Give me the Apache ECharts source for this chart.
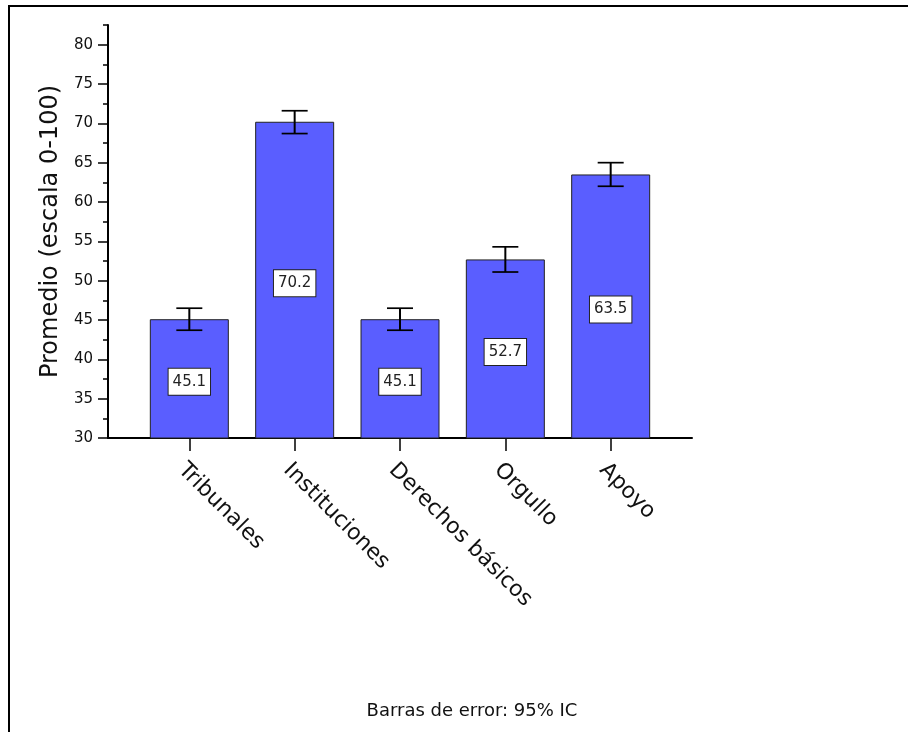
<!DOCTYPE html>
<html>
<head>
<meta charset="utf-8">
<script src="https://cdn.jsdelivr.net/npm/echarts@6/dist/echarts.min.js"></script>
<style>
  html, body { margin: 0; padding: 0; background: #ffffff; }
  #frame { position: absolute; left: 8px; top: 5px; right: 0; bottom: 0; border-top: 2px solid #000; border-left: 2px solid #000; }
  #chart { position: absolute; left: 0; top: 0; width: 908px; height: 732px; }
</style>
</head>
<body>
<div id="frame"></div>
<div id="chart"></div>
<script>
const categories = ['Tribunales', 'Instituciones', 'Derechos básicos', 'Orgullo', 'Apoyo'];
const means = [45.1, 70.2, 45.1, 52.7, 63.5];
const ciLower = [43.7, 68.7, 43.7, 51.1, 62.0];
const ciUpper = [46.5, 71.6, 46.5, 54.3, 65.0];
const yTickValues = [30, 35, 40, 45, 50, 55, 60, 65, 70, 75, 80];
const xTickValues = [0, 1, 2, 3, 4];
const yAxisTitle = 'Promedio (escala 0-100)';
const footnote = 'Barras de error: 95% IC';

const FONT = 'DejaVu Sans';
const chart = echarts.init(document.getElementById('chart'), null, { renderer: 'canvas' });

const barData = means.map((v, i) => [i, v]);
const errData = means.map((v, i) => [i, ciLower[i], ciUpper[i]]);

chart.setOption({
  animation: false,
  textStyle: { fontFamily: FONT },
  title: {
    text: footnote,
    left: 467,
    top: 697,
    textAlign: 'center',
    textStyle: { fontFamily: FONT, fontSize: 18, fontWeight: 'normal', color: '#111' }
  },
  grid: { left: 108, top: 25, right: 216, bottom: 294, containLabel: false },
  xAxis: {
    type: 'value',
    min: -0.772,
    max: 4.772,
    splitLine: { show: false },
    axisLine: { show: true, onZero: false, lineStyle: { color: '#000', width: 2 } },
    axisTick: { show: true, customValues: xTickValues, length: 13, lineStyle: { color: '#000', width: 1.5 } },
    axisLabel: {
      customValues: xTickValues,
      formatter: (v) => categories[Math.round(v)],
      rotate: -45,
      align: 'left',
      verticalAlign: 'top',
      margin: 21,
      fontFamily: FONT,
      fontSize: 22,
      color: '#111'
    }
  },
  yAxis: [
    {
      type: 'value',
      min: 30,
      max: 82.5,
      interval: 5,
      position: 'left',
      splitLine: { show: false },
      axisLine: { show: true, onZero: false, lineStyle: { color: '#000', width: 2 } },
      axisTick: { show: true, customValues: yTickValues, length: 10, lineStyle: { color: '#000', width: 1.5 } },
      axisLabel: { customValues: yTickValues, margin: 15, fontFamily: FONT, fontSize: 15, color: '#111' },
      name: yAxisTitle,
      nameLocation: 'middle',
      nameGap: 44,
      nameTextStyle: { fontFamily: FONT, fontSize: 24, color: '#111' }
    },
    {
      type: 'value',
      min: 30,
      max: 82.5,
      interval: 2.5,
      position: 'left',
      splitLine: { show: false },
      axisLine: { show: false, onZero: false },
      axisTick: { show: true, length: 5, lineStyle: { color: '#000', width: 1.5 } },
      axisLabel: { show: false }
    }
  ],
  series: [
    {
      type: 'bar',
      xAxisIndex: 0,
      yAxisIndex: 0,
      data: barData,
      barWidth: 79,
      itemStyle: { color: '#5a5eff', borderColor: '#222', borderWidth: 1 },
      label: {
        show: true,
        position: 'inside',
        offset: [0, 3],
        formatter: (p) => p.value[1].toFixed(1),
        fontFamily: FONT,
        fontSize: 15,
        color: '#222',
        backgroundColor: '#ffffff',
        borderColor: '#222',
        borderWidth: 1,
        padding: [6, 4, 5, 4]
      }
    },
    {
      type: 'custom',
      xAxisIndex: 0,
      yAxisIndex: 0,
      data: errData,
      encode: { x: 0, y: [1, 2] },
      z: 10,
      renderItem: function (params, api) {
        const x = api.value(0);
        const lo = api.coord([x, api.value(1)]);
        const hi = api.coord([x, api.value(2)]);
        const half = 13;
        return {
          type: 'group',
          children: [
            { type: 'line', shape: { x1: lo[0], y1: lo[1], x2: hi[0], y2: hi[1] }, style: { stroke: '#000', lineWidth: 2 } },
            { type: 'line', shape: { x1: hi[0] - half, y1: hi[1], x2: hi[0] + half, y2: hi[1] }, style: { stroke: '#000', lineWidth: 1.7 } },
            { type: 'line', shape: { x1: lo[0] - half, y1: lo[1], x2: lo[0] + half, y2: lo[1] }, style: { stroke: '#000', lineWidth: 1.7 } }
          ]
        };
      }
    }
  ]
});
</script>
</body>
</html>
